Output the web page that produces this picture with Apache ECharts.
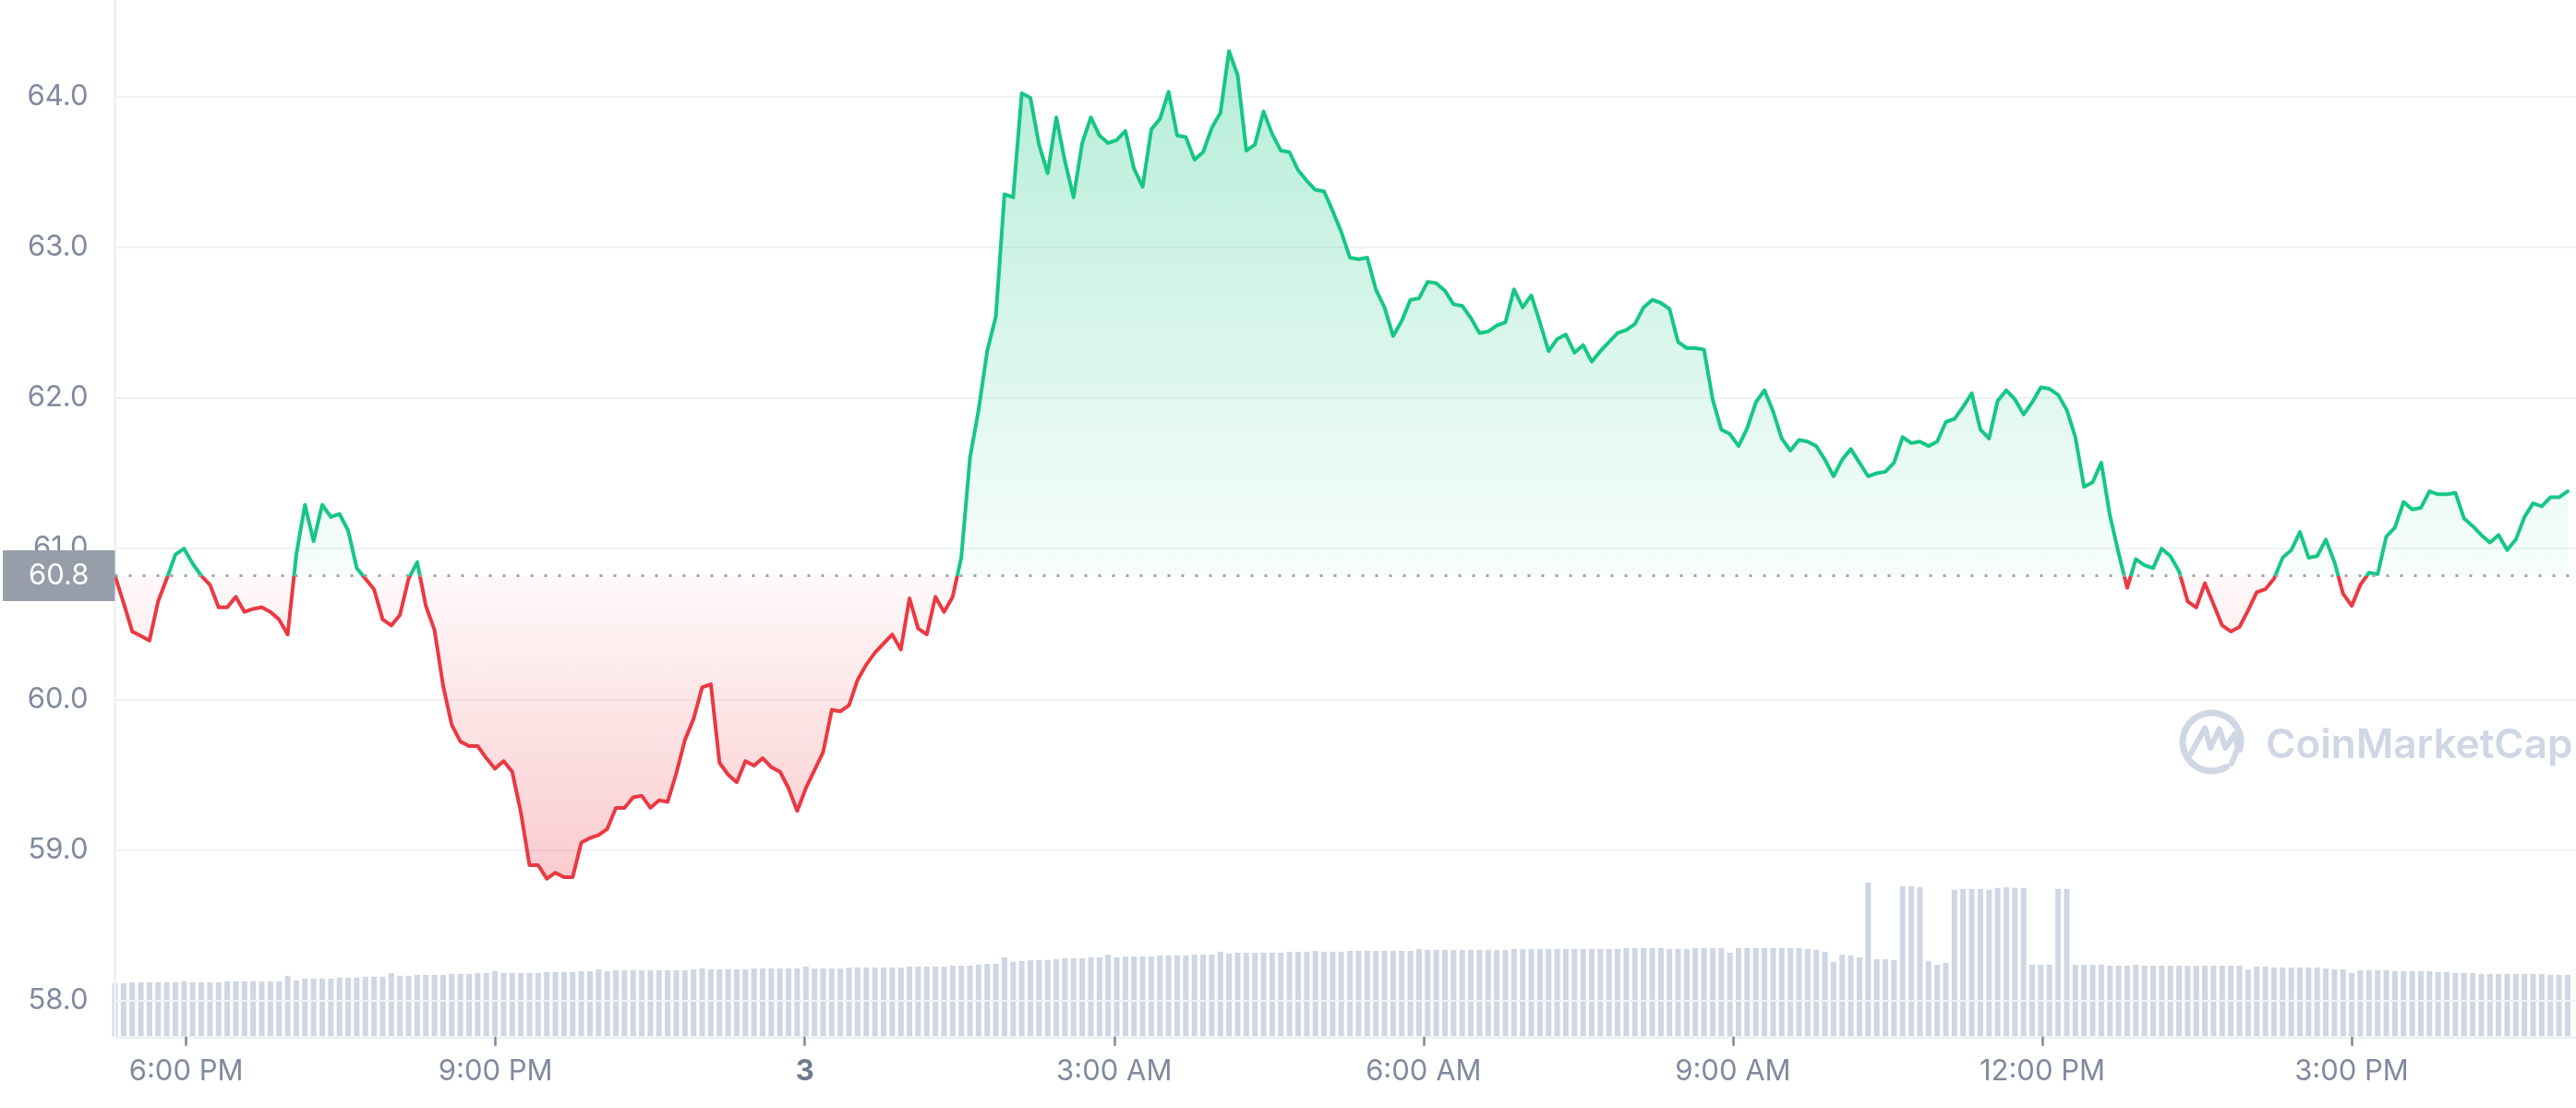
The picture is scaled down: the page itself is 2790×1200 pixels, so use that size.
<!DOCTYPE html>
<html>
<head>
<meta charset="utf-8">
<script src="https://cdn.jsdelivr.net/npm/echarts@6/dist/echarts.min.js"></script>
<style>
html,body{margin:0;padding:0;background:#ffffff;}
#chart{width:2790px;height:1200px;}
</style>
</head>
<body>
<div id="chart"></div>
<script>
// ---------------- data ----------------
// first sample time (local) and sampling step
const firstSample = [2023, 0, 2, 17, 18, 35];
const sampleSeconds = 301.5;

// price (USD), one value per sample
const prices = [
60.82,60.64,60.45,60.42,60.39,60.65,60.80,60.96,61.00,60.90,
60.82,60.76,60.61,60.61,60.68,60.58,60.60,60.61,60.58,60.53,
60.43,60.96,61.29,61.05,61.29,61.21,61.23,61.12,60.87,60.80,
60.73,60.53,60.49,60.56,60.80,60.91,60.62,60.46,60.09,59.83,
59.72,59.69,59.69,59.61,59.54,59.59,59.52,59.25,58.90,58.90,
58.81,58.85,58.82,58.82,59.05,59.08,59.10,59.14,59.28,59.28,
59.35,59.36,59.28,59.33,
59.32,59.51,59.73,59.87,60.08,60.10,59.58,59.50,59.45,59.59,
59.56,59.61,59.55,59.52,59.41,59.26,59.41,59.53,59.65,59.93,
59.92,59.96,60.13,60.23,60.31,60.37,60.43,60.33,60.67,60.47,
60.43,60.68,60.58,60.68,60.94,
61.60,61.92,62.31,62.54,63.35,63.33,64.02,63.99,63.68,63.49,
63.86,63.57,63.33,63.69,63.86,63.74,63.69,63.71,63.77,63.52,
63.40,63.78,63.85,64.03,63.74,63.73,63.58,63.63,63.79,63.89,
64.30,64.14,63.64,63.68,63.90,63.75,63.64,63.63,
63.51,63.44,63.38,63.37,63.24,63.10,62.93,62.92,62.93,62.72,
62.60,62.41,62.51,62.65,62.66,62.77,62.76,62.71,62.62,62.61,
62.53,62.43,62.44,62.48,62.50,62.72,62.60,62.68,62.50,62.31,
62.39,62.42,62.30,62.35,62.24,62.31,62.37,62.43,62.45,62.49,
62.60,62.65,62.63,62.59,62.37,62.33,62.33,62.32,61.99,61.79,
61.76,61.68,61.80,61.97,62.05,61.91,61.73,61.65,61.72,61.71,
61.68,61.59,61.48,61.59,61.66,61.57,61.48,61.50,61.51,61.57,
61.74,61.70,61.71,61.68,61.71,
61.84,61.86,61.94,62.03,61.79,61.73,61.98,62.05,61.99,61.89,
61.97,62.07,62.06,62.02,61.92,61.74,61.41,61.44,61.57,61.22,
60.97,60.74,60.93,60.89,60.87,61.00,60.95,60.85,60.65,60.61,
60.77,60.63,60.49,60.45,60.48,60.59,60.71,60.73,60.80,60.94,
60.99,61.11,60.94,60.95,61.06,60.91,60.70,60.62,60.76,60.84,
60.83,61.08,61.14,61.31,61.26,61.27,61.38,61.36,61.36,61.37,
61.20,61.15,61.09,61.04,61.09,60.99,61.06,61.21,61.30,61.28,
61.34,61.34,61.38
];

// volume (relative units), one value per sample
const volumes = [
58,58,59,59,59,59,59,59,60,59,
59,59,59,60,60,60,60,60,60,60,
66,61,63,63,63,63,64,64,64,65,
65,65,69,66,66,67,67,67,67,68,
68,68,69,69,71,69,69,69,69,69,
70,70,70,70,71,71,73,71,72,72,
72,72,72,72,72,72,72,73,74,73,
73,73,73,73,74,74,74,74,74,74,
76,74,74,74,74,75,75,75,75,75,
75,75,76,76,76,76,76,77,77,77,
78,79,79,86,81,82,83,83,83,84,
85,85,85,86,86,89,86,87,87,87,
87,88,88,88,88,89,89,89,92,90,
91,91,91,91,91,91,92,92,92,93,
92,92,92,93,93,93,93,93,93,93,
93,95,94,94,94,94,94,94,94,94,
94,94,95,95,95,95,95,95,95,95,
95,95,95,95,95,96,96,96,96,96,
95,95,95,96,96,96,96,91,96,96,
96,96,96,96,96,96,95,94,92,81,
89,88,86,167,84,84,83,163,163,162,
82,78,80,159,160,160,160,159,161,162,
161,161,78,78,78,160,160,78,78,78,
78,77,77,77,78,77,77,77,77,77,
77,77,77,77,77,77,77,73,76,76,
75,75,75,75,75,75,74,73,73,69,
72,72,72,72,71,71,71,71,71,70,
70,69,69,69,68,68,68,68,68,68,
68,68,67,67,67
];

// x-axis tick labels and their hour offsets from the start of day 2
const tickLabels = ['6:00 PM','9:00 PM','3','3:00 AM','6:00 AM','9:00 AM','12:00 PM','3:00 PM'];
const tickHours  = [18, 21, 24, 27, 30, 33, 36, 39];

// y-axis range shown
const priceAxisMin = 57.762;
const priceAxisMax = 64.639;
const baselineLabel = '60.8';

// ---------------- derived ----------------
const t0 = new Date(firstSample[0], firstSample[1], firstSample[2], firstSample[3], firstSample[4], firstSample[5]).getTime();
const times = prices.map((_, i) => t0 + i * sampleSeconds * 1000);
const axisSpanMs = 23.866 * 3600 * 1000;
const tickTimes = tickHours.map(h => new Date(2023, 0, 2, h, 0, 0).getTime());

const base = prices[0];
const pMax = Math.max(...prices);
const pMin = Math.min(...prices);
const f = (pMax - base) / (pMax - pMin);

const GREEN = '#16c784';
const RED = '#ea3943';

const lineGrad = new echarts.graphic.LinearGradient(0, 0, 0, 1, [
  {offset: 0, color: GREEN}, {offset: f, color: GREEN},
  {offset: f, color: RED}, {offset: 1, color: RED}
]);
const areaGrad = new echarts.graphic.LinearGradient(0, 0, 0, 1, [
  {offset: 0, color: 'rgba(22,199,132,0.32)'},
  {offset: f, color: 'rgba(22,199,132,0.03)'},
  {offset: f, color: 'rgba(234,57,67,0.03)'},
  {offset: 1, color: 'rgba(234,57,67,0.26)'}
]);

const LABEL_COLOR = '#808a9d';
const FONT = 'Inter';

const chart = echarts.init(document.getElementById('chart'), null, {renderer: 'canvas', width: 2790, height: 1200});

const option = {
  animation: false,
  backgroundColor: '#ffffff',
  grid: {left: 124.5, right: 0, top: 0, bottom: 77.2, containLabel: false, outerBoundsMode: 'none'},
  xAxis: {
    type: 'value',
    min: t0,
    max: t0 + axisSpanMs,
    scale: true,
    axisLine: {show: true, onZero: false, lineStyle: {color: '#eff2f5', width: 3}},
    axisTick: {show: true, customValues: tickTimes, length: 10, lineStyle: {color: '#7d879a', width: 2.5}},
    axisLabel: {
      show: true,
      customValues: tickTimes,
      margin: 22,
      fontFamily: FONT,
      fontSize: 31,
      color: LABEL_COLOR,
      formatter: function (value) {
        let idx = -1;
        for (let k = 0; k < tickTimes.length; k++) {
          if (Math.abs(tickTimes[k] - value) < 1000) { idx = k; break; }
        }
        if (idx < 0) return '';
        const lbl = tickLabels[idx];
        return tickHours[idx] % 24 === 0 ? '{d|' + lbl + '}' : lbl;
      },
      rich: {d: {fontFamily: FONT, fontSize: 31, fontWeight: 'bold', color: '#6f7a8e'}}
    },
    splitLine: {show: false}
  },
  yAxis: [
    {
      type: 'value',
      position: 'left',
      min: priceAxisMin,
      max: priceAxisMax,
      minInterval: 1,
      maxInterval: 1,
      axisLine: {show: true, lineStyle: {color: '#eff2f5', width: 3}},
      axisTick: {show: false},
      axisLabel: {
        margin: 29, fontFamily: FONT, fontSize: 31, color: LABEL_COLOR,
        showMinLabel: false, showMaxLabel: false,
        formatter: v => v.toFixed(1)
      },
      splitLine: {show: true, showMinLine: false, showMaxLine: false, lineStyle: {color: '#eff2f5', width: 2}}
    },
    {
      type: 'value', min: 0, max: 1122.8, show: false,
      splitLine: {show: false}, axisLine: {show: false}, axisLabel: {show: false}
    }
  ],
  series: [
    {
      name: 'Volume',
      type: 'bar',
      xAxisIndex: 0,
      yAxisIndex: 1,
      data: times.map((t, i) => [t, volumes[i]]),
      barWidth: 6,
      itemStyle: {color: '#cfd6e4'},
      silent: true,
      z: -1
    },
    {
      name: 'Price',
      type: 'line',
      xAxisIndex: 0,
      yAxisIndex: 0,
      data: times.map((t, i) => [t, prices[i]]),
      symbol: 'none',
      showSymbol: false,
      smooth: false,
      z: 3,
      lineStyle: {width: 4, color: lineGrad, cap: 'round', join: 'round'},
      areaStyle: {origin: base, color: areaGrad, opacity: 1},
      markLine: {
        silent: true,
        animation: false,
        symbol: ['none', 'none'],
        data: [{yAxis: base}],
        lineStyle: {type: [3, 12], width: 3, color: '#9ea5b2'},
        emphasis: {disabled: true},
        label: {
          show: true, position: 'start', distance: 0,
          formatter: baselineLabel,
          color: '#ffffff', backgroundColor: '#969eaa',
          padding: [12, 28, 12, 28],
          fontFamily: FONT, fontSize: 31, lineHeight: 31
        }
      }
    }
  ],
  graphic: [
    {
      type: 'text', silent: true, z: -5,
      style: {x: 2454, y: 808, text: 'CoinMarketCap', fill: '#cfd6e4', font: '600 44px Inter', align: 'left', verticalAlign: 'middle', textAlign: 'left', textVerticalAlign: 'middle'}
    },
    {
      type: 'arc', silent: true, z: -5,
      shape: {cx: 2395.5, cy: 803.5, r: 31.5, startAngle: Math.PI * 60 / 180, endAngle: Math.PI * 375 / 180, clockwise: true},
      style: {stroke: '#cfd6e4', lineWidth: 7, fill: null, lineCap: 'round'}
    },
    {
      type: 'polyline', silent: true, z: -5,
      shape: {points: [[2370.7, 820], [2388.3, 788.3], [2394, 810], [2403.7, 789.3], [2410.3, 810], [2420.4, 795], [2423.5, 810], [2416.9, 827.3]]},
      style: {stroke: '#cfd6e4', lineWidth: 6, fill: null, lineJoin: 'round', lineCap: 'round'}
    }
  ]
};

chart.setOption(option);
</script>
</body>
</html>
